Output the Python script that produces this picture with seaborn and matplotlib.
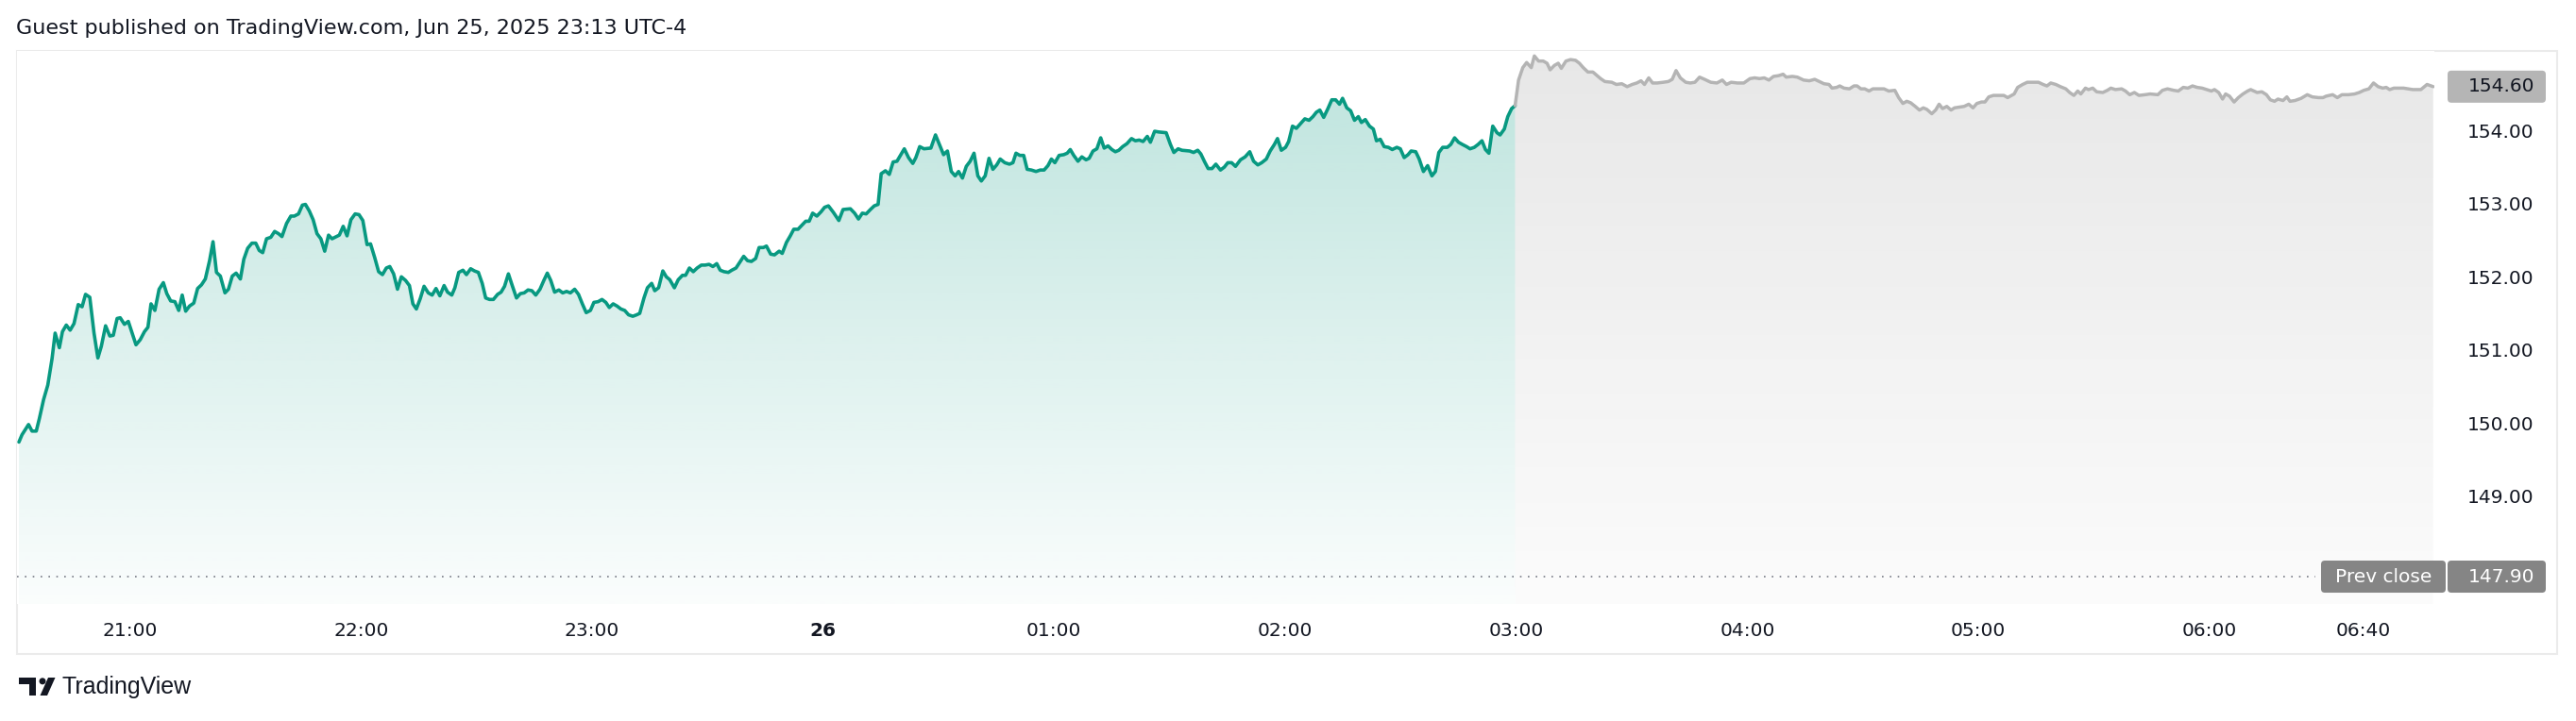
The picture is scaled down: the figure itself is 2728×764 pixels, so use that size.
import numpy as np
import matplotlib
matplotlib.use("Agg")
import matplotlib.pyplot as plt
import seaborn as sns
from matplotlib.patches import Polygon, Rectangle, FancyBboxPatch, Circle
from matplotlib.transforms import IdentityTransform
from matplotlib.colors import to_rgb

# ---------------- data (minutes after 20:00, Jun 25 2025 UTC-4) ----------------
session_minutes = [
    31.2, 32.0, 33.7, 34.6, 35.7, 36.5, 37.6, 38.7, 39.8, 40.6,
    41.7, 42.5, 43.5, 44.5, 45.5, 46.6, 47.6, 48.5, 49.6, 50.7,
    51.7, 52.6, 53.7, 54.8, 55.7, 56.7, 57.5, 58.6, 59.6, 60.6,
    61.6, 62.7, 63.8, 64.7, 65.5, 66.5, 67.6, 68.7, 69.6, 70.6,
    71.7, 72.7, 73.6, 74.5, 75.5, 76.6, 77.6, 78.6, 79.6, 80.7,
    81.6, 82.5, 83.5, 84.7, 85.6, 86.6, 87.6, 88.7, 89.6, 90.6,
    91.7, 92.7, 93.6, 94.5, 95.5, 96.6, 97.6, 98.6, 99.5, 100.7,
    101.8, 102.7, 103.8, 104.8, 105.6, 106.6, 107.6, 108.6, 109.6, 110.6,
    111.6, 112.5, 114.4, 115.4, 116.4, 117.4, 118.5, 119.5, 120.5, 121.6,
    122.5, 123.6, 124.6, 125.6, 126.6, 127.5, 128.5, 129.5, 130.5, 131.6,
    132.6, 133.5, 134.4,
    135.4, 136.4, 137.5, 138.5, 139.5, 140.5, 141.6, 142.5, 143.6, 144.4,
    145.4, 146.5, 147.4, 148.5, 149.5, 150.5, 151.5, 152.4, 153.4, 154.4,
    155.5, 156.4, 157.3, 158.3, 159.3, 160.4, 161.4, 162.4, 163.4, 164.4,
    165.4, 166.5, 167.5, 168.4, 169.3, 170.3, 171.4, 172.4, 173.4, 174.4,
    175.5, 176.5, 177.5, 178.5, 179.6, 180.5, 181.6, 182.6, 183.6, 184.5,
    185.5, 186.5, 187.5, 188.5, 189.5, 190.6, 191.6, 192.4, 193.5, 194.4,
    195.5, 196.3, 197.3, 198.4, 199.3, 200.2, 201.4, 202.4, 203.5, 204.3,
    205.3, 206.3, 207.3, 208.4, 209.4, 210.4, 211.4, 212.4, 213.3, 214.3,
    215.4, 216.3, 217.4, 218.4, 219.4, 220.4, 221.4, 222.5, 223.4, 224.5,
    225.3, 226.4, 227.4, 228.6, 229.4, 230.5, 231.5, 232.4, 233.5, 234.6,
    235.5, 236.4, 237.3, 238.4, 239.5, 240.4, 241.4,
    242.7, 244.1, 245.2, 247.1, 248.2, 249.2, 250.2, 251.2, 252.3, 253.3,
    254.3, 255.1, 256.2, 257.2, 258.2, 259.2, 260.2, 261.1, 262.2, 263.3,
    264.1, 265.1, 266.2, 268.0, 269.2, 270.2, 271.3, 272.3, 273.3, 274.3,
    275.2, 276.2, 277.2, 278.2, 279.2, 280.2, 281.1, 282.1, 283.1, 284.1,
    285.1, 286.0, 287.2, 288.4, 289.3, 290.1, 291.1, 292.1, 293.0, 294.1,
    295.3, 296.4, 297.4, 298.4, 299.3, 300.2, 301.3, 302.5, 303.4, 304.2,
    305.1, 306.2, 307.2, 308.3, 309.1, 310.1, 311.1, 312.1, 313.0, 314.0,
    315.0, 315.9, 316.8, 317.8, 318.9, 320.1, 321.1, 322.1, 323.1, 324.2,
    325.0, 326.1, 327.2, 329.1, 330.2, 331.1, 332.2, 333.2, 335.2, 336.2,
    337.3, 338.1, 339.1, 340.0, 341.0, 342.0, 343.2, 344.2,
    345.1, 346.1, 347.1, 348.4, 349.6, 350.8, 351.8, 352.9, 353.9, 355.1,
    356.1, 357.2, 358.0, 359.0, 360.1, 360.9, 361.9, 362.9, 363.9, 365.1,
    366.2, 367.2, 368.1, 369.0, 370.0, 371.1, 372.1, 373.1, 374.1, 374.9,
    376.0, 377.0, 378.0, 379.0, 379.8, 380.8, 381.9, 382.9, 383.7, 384.7,
    385.7, 386.8, 387.8, 389.0, 389.9, 390.9, 391.9, 392.7, 393.9, 394.8,
    395.9, 397.0, 398.1, 399.0, 399.9, 400.9, 402.1, 403.0, 404.0, 405.0,
    406.0, 407.1, 408.0, 409.1, 410.1, 411.1, 412.0, 412.9, 413.9, 415.0,
    415.8, 416.9, 417.8, 418.8, 419.7,
]
session_prices = [
    149.74, 149.84, 149.98, 149.89, 149.89, 150.06, 150.32, 150.52, 150.88, 151.23,
    151.03, 151.25, 151.34, 151.27, 151.36, 151.62, 151.59, 151.76, 151.72, 151.23,
    150.89, 151.05, 151.33, 151.19, 151.20, 151.43, 151.44, 151.35, 151.39, 151.23,
    151.07, 151.14, 151.25, 151.31, 151.63, 151.54, 151.83, 151.92, 151.77, 151.67,
    151.66, 151.54, 151.75, 151.53, 151.60, 151.64, 151.84, 151.89, 151.97, 152.22,
    152.48, 152.06, 152.01, 151.78, 151.83, 152.01, 152.05, 151.97, 152.24, 152.39,
    152.46, 152.46, 152.36, 152.33, 152.52, 152.54, 152.62, 152.59, 152.55, 152.73,
    152.83, 152.83, 152.86, 152.98, 152.99, 152.90, 152.78, 152.59, 152.52, 152.35,
    152.57, 152.52, 152.57, 152.69, 152.56, 152.78, 152.86, 152.85, 152.77, 152.44,
    152.45, 152.26, 152.07, 152.03, 152.12, 152.14, 152.04, 151.83, 152.00, 151.95,
    151.88, 151.63, 151.56,
    151.70, 151.87, 151.78, 151.75, 151.84, 151.74, 151.88, 151.79, 151.75, 151.85,
    152.06, 152.09, 152.03, 152.11, 152.08, 152.06, 151.91, 151.71, 151.69, 151.69,
    151.76, 151.79, 151.87, 152.04, 151.88, 151.71, 151.77, 151.78, 151.82, 151.81,
    151.75, 151.83, 151.95, 152.05, 151.95, 151.79, 151.82, 151.78, 151.80, 151.78,
    151.83, 151.76, 151.63, 151.51, 151.54, 151.65, 151.66, 151.69, 151.65, 151.58,
    151.63, 151.60, 151.56, 151.54, 151.48, 151.46, 151.48, 151.50, 151.71, 151.85,
    151.91, 151.81, 151.85, 152.08, 152.00, 151.96, 151.85, 151.96, 152.02, 152.02,
    152.12, 152.07, 152.12, 152.16, 152.16, 152.17, 152.14, 152.18, 152.09, 152.07,
    152.06, 152.09, 152.12, 152.20, 152.28, 152.22, 152.21, 152.25, 152.40, 152.40,
    152.42, 152.31, 152.30, 152.35, 152.32, 152.47, 152.56, 152.65, 152.65, 152.71,
    152.76, 152.76, 152.87, 152.83, 152.89, 152.95, 152.97,
    152.88, 152.77, 152.92, 152.93, 152.87, 152.79, 152.87, 152.86, 152.92, 152.97,
    152.99, 153.41, 153.45, 153.40, 153.57, 153.58, 153.67, 153.75, 153.63, 153.55,
    153.63, 153.78, 153.75, 153.76, 153.94, 153.81, 153.67, 153.72, 153.44, 153.38,
    153.44, 153.35, 153.51, 153.58, 153.69, 153.38, 153.31, 153.38, 153.62, 153.47,
    153.53, 153.61, 153.56, 153.54, 153.56, 153.69, 153.66, 153.66, 153.47, 153.46,
    153.44, 153.46, 153.46, 153.52, 153.61, 153.56, 153.66, 153.67, 153.69, 153.74,
    153.66, 153.58, 153.64, 153.60, 153.62, 153.72, 153.75, 153.90, 153.76, 153.79,
    153.74, 153.71, 153.73, 153.78, 153.82, 153.89, 153.86, 153.87, 153.85, 153.92,
    153.84, 153.99, 153.98, 153.97, 153.81, 153.70, 153.75, 153.73, 153.72, 153.70,
    153.73, 153.68, 153.57, 153.48, 153.48, 153.54, 153.46, 153.50,
    153.56, 153.56, 153.51, 153.60, 153.64, 153.71, 153.58, 153.53, 153.56, 153.61,
    153.72, 153.81, 153.89, 153.73, 153.77, 153.85, 154.06, 154.03, 154.09, 154.16,
    154.14, 154.19, 154.25, 154.28, 154.18, 154.30, 154.42, 154.42, 154.36, 154.44,
    154.31, 154.27, 154.14, 154.19, 154.11, 154.15, 154.06, 154.02, 153.86, 153.88,
    153.78, 153.77, 153.74, 153.77, 153.75, 153.63, 153.67, 153.72, 153.71, 153.61,
    153.44, 153.52, 153.38, 153.44, 153.70, 153.77, 153.77, 153.81, 153.90, 153.84,
    153.81, 153.78, 153.75, 153.77, 153.81, 153.86, 153.74, 153.69, 154.06, 153.97,
    153.94, 154.02, 154.19, 154.30, 154.34,
]
overnight_minutes = [
    419.7, 420.6, 421.7, 422.7, 423.9, 424.7, 425.8, 427.0, 428.0, 428.8,
    429.9, 430.9, 431.7, 432.9, 434.1, 435.4, 436.4, 437.4, 438.6, 439.9,
    440.8, 441.9, 443.0, 444.8, 446.0, 447.4, 448.8, 450.1, 451.3, 452.4,
    453.3, 454.4, 455.4, 456.6, 458.2, 459.5, 460.5, 461.5, 462.6, 464.0,
    465.2, 466.4, 467.6, 468.9, 470.5, 472.1, 473.5, 474.6, 475.8, 477.4,
    479.1, 480.7, 481.9, 483.2, 484.4, 485.6, 486.8, 488.1, 489.3, 490.1,
    491.7, 493.0, 494.6, 496.1, 497.5, 498.7, 499.9, 501.2, 502.0, 503.2,
    504.0, 505.1, 506.5, 507.7, 508.5, 509.5, 510.5, 511.6, 512.6, 513.8,
    515.5, 516.7, 518.3, 519.3, 520.4, 521.4, 522.4, 523.6, 524.7, 525.7,
    526.6, 527.9, 528.9, 529.8, 530.7, 531.8, 532.9, 533.8, 535.1, 536.3,
    537.5, 538.6, 539.6, 540.8,
    541.7, 542.7, 543.9, 546.6, 547.6, 549.3, 550.2, 551.5, 552.7, 555.6,
    556.8, 557.8, 558.8, 560.1, 561.3, 562.7, 563.7, 564.8, 565.8, 566.6,
    567.8, 568.6, 569.7, 570.7, 572.3, 573.5, 574.4, 575.6, 577.2, 578.2,
    579.3, 580.5, 581.7, 583.3, 584.6, 586.6, 587.8, 589.1, 590.7, 591.9,
    593.2, 594.4, 595.6, 596.8, 598.1, 599.3, 600.5, 601.3, 602.4, 603.4,
    604.2, 605.2, 606.4, 607.5, 608.7, 609.9, 610.7, 612.4, 613.6, 614.8,
    615.8, 616.9, 617.8, 619.1, 620.1, 620.9, 622.2, 623.8, 625.4, 626.7,
    628.3, 629.5, 630.3, 632.0, 633.2, 634.4, 636.1, 637.7, 638.9, 640.1,
    641.4, 642.6, 643.8, 645.0, 645.9, 646.8, 647.9, 649.1, 650.4, 651.6,
    652.8, 654.9, 656.5, 658.1,
]
overnight_prices = [
    154.34, 154.69, 154.86, 154.93, 154.86, 155.02, 154.95, 154.95, 154.92, 154.83,
    154.89, 154.92, 154.85, 154.95, 154.97, 154.96, 154.92, 154.86, 154.80, 154.80,
    154.76, 154.71, 154.67, 154.66, 154.63, 154.64, 154.60, 154.63, 154.65, 154.68,
    154.63, 154.72, 154.65, 154.65, 154.66, 154.67, 154.70, 154.82, 154.72, 154.66,
    154.65, 154.66, 154.73, 154.70, 154.66, 154.65, 154.69, 154.63, 154.66, 154.65,
    154.65, 154.71, 154.72, 154.71, 154.72, 154.69, 154.74, 154.75, 154.77, 154.73,
    154.74, 154.73, 154.69, 154.68, 154.70, 154.67, 154.64, 154.63, 154.58, 154.59,
    154.61, 154.58, 154.57, 154.61, 154.61, 154.57, 154.57, 154.54, 154.57, 154.57,
    154.57, 154.54, 154.55, 154.45, 154.37, 154.40, 154.38, 154.33, 154.28, 154.31,
    154.29, 154.23, 154.28, 154.36, 154.30, 154.33, 154.28, 154.31, 154.32, 154.33,
    154.36, 154.31, 154.37, 154.39,
    154.39, 154.46, 154.48, 154.48, 154.45, 154.50, 154.59, 154.63, 154.66, 154.66,
    154.63, 154.61, 154.65, 154.63, 154.60, 154.57, 154.52, 154.48, 154.54, 154.50,
    154.58, 154.56, 154.58, 154.53, 154.52, 154.55, 154.58, 154.56, 154.57, 154.54,
    154.49, 154.52, 154.48, 154.49, 154.50, 154.49, 154.55, 154.57, 154.55, 154.54,
    154.59, 154.58, 154.61, 154.59, 154.58, 154.56, 154.54, 154.56, 154.52, 154.43,
    154.50, 154.47, 154.39, 154.45, 154.50, 154.54, 154.56, 154.52, 154.53, 154.49,
    154.42, 154.40, 154.43, 154.41, 154.46, 154.40, 154.41, 154.44, 154.49, 154.46,
    154.45, 154.45, 154.47, 154.49, 154.45, 154.49, 154.49, 154.50, 154.52, 154.55,
    154.57, 154.65, 154.60, 154.58, 154.59, 154.56, 154.58, 154.58, 154.58, 154.57,
    154.56, 154.56, 154.63, 154.60,
]
prev_close = 147.90
time_tick_minutes = [60, 120, 180, 240, 300, 360, 420, 480, 540, 600, 640]
time_tick_labels = ["21:00", "22:00", "23:00", "26", "01:00", "02:00",
                    "03:00", "04:00", "05:00", "06:00", "06:40"]
price_ticks = [149.0, 150.0, 151.0, 152.0, 153.0, 154.0]
title_text = "Guest published on TradingView.com, Jun 25, 2025 23:13 UTC-4"

# ---------------- styling ----------------
W, H = 2728, 764
GREEN = "#089981"
GRAY_LINE = "#b4b4b4"
TEXT = "#131722"
FS = 14.5

sns.set_theme(style="white")
plt.rcParams['font.family'] = ['DejaVu Sans']

fig = plt.figure(figsize=(W / 100, H / 100), dpi=100)
fig.patch.set_facecolor("white")

# pane geometry in pixels (y measured from top)
PL, PR, PT, PB = 18, 2578, 54, 640
ax = fig.add_axes([PL / W, 1 - PB / H, (PR - PL) / W, (PB - PT) / H])
ax.set_facecolor("white")

XLIM = (30.7, 658.4)
YLIM = (147.526, 155.088)


def gradient_fill(ax, xs, ys, rgb, a_top, a_bot):
    verts = [(xs[0], YLIM[0])] + list(zip(xs, ys)) + [(xs[-1], YLIM[0])]
    poly = Polygon(verts, closed=True, facecolor="none", edgecolor="none")
    ax.add_patch(poly)
    n = 256
    grad = np.zeros((n, 1, 4))
    grad[:, 0, :3] = rgb
    grad[:, 0, 3] = np.linspace(a_bot, a_top, n)
    im = ax.imshow(grad, extent=[xs[0], xs[-1], YLIM[0], YLIM[1]], origin="lower",
                   aspect="auto", interpolation="bilinear", zorder=1)
    im.set_clip_path(poly)


gradient_fill(ax, session_minutes, session_prices, to_rgb(GREEN), 0.27, 0.02)
gradient_fill(ax, overnight_minutes, overnight_prices, (0.56, 0.56, 0.56), 0.21, 0.03)

sns.lineplot(x=session_minutes, y=session_prices, ax=ax, color=GREEN, linewidth=2.6,
             estimator=None, sort=False, zorder=3)
sns.lineplot(x=overnight_minutes, y=overnight_prices, ax=ax, color=GRAY_LINE, linewidth=2.5,
             estimator=None, sort=False, zorder=3)

ax.set_xlim(*XLIM)
ax.set_ylim(*YLIM)
for s in ax.spines.values():
    s.set_visible(False)
ax.grid(False)
ax.set_xlabel("")
ax.set_ylabel("")

ax.set_xticks(time_tick_minutes)
ax.set_xticklabels(time_tick_labels)
ax.tick_params(axis="x", length=0, pad=13.5, labelsize=FS, labelcolor=TEXT)
ax.get_xticklabels()[3].set_fontweight("bold")

ax.yaxis.tick_right()
ax.set_yticks(price_ticks)
ax.set_yticklabels([f"{v:.2f}" for v in price_ticks])
ax.tick_params(axis="y", length=0, pad=25, labelsize=FS, labelcolor=TEXT)

fig.canvas.draw()


def data_to_px(x, y):
    dx, dy = ax.transData.transform((x, y))
    return dx, H - dy


def px_to_data(px, py):
    return ax.transData.inverted().transform((px, H - py))


# prev close dotted line
_, y_pc = data_to_px(XLIM[0], prev_close)
x_end = px_to_data(2452, y_pc)[0]
ax.plot([XLIM[0], x_end], [prev_close, prev_close], color="#787b86",
        linestyle=(0, (1, 4)), linewidth=1.2, zorder=2)


def box(x0, y0, x1, y1, color):
    p = FancyBboxPatch((x0, H - y1), x1 - x0, y1 - y0,
                       boxstyle="round,pad=0,rounding_size=4",
                       facecolor=color, edgecolor="none", transform=IdentityTransform(),
                       zorder=5)
    fig.add_artist(p)


# prev close labels
box(2458, y_pc - 17, 2590, y_pc + 17, "#858585")
box(2592, y_pc - 17, 2696, y_pc + 17, "#858585")
fig.text(2524 / W, 1 - y_pc / H, "Prev close", color="white", fontsize=FS,
         ha="center", va="center", zorder=6)
fig.text(2684 / W, 1 - y_pc / H, f"{prev_close:.2f}", color="white", fontsize=FS,
         ha="right", va="center", zorder=6)

# last price label
last_price = overnight_prices[-1]
_, y_lp = data_to_px(XLIM[1], last_price)
box(2592, y_lp - 17, 2696, y_lp + 17, "#b5b5b5")
fig.text(2684 / W, 1 - y_lp / H, f"{last_price:.2f}", color=TEXT, fontsize=FS,
         ha="right", va="center", zorder=6)

# outer frame
fig.add_artist(Rectangle((18, H - 693), 2690, 639, fill=False, edgecolor="#ebebeb",
                         linewidth=1.5, transform=IdentityTransform(), zorder=0))

# title
fig.text(17 / W, 1 - 30 / H, title_text, color=TEXT, fontsize=16,
         ha="left", va="center")

# TradingView logo
logo_col = TEXT
fig.add_artist(Rectangle((20, H - 725), 18, 7, facecolor=logo_col, edgecolor="none",
                         transform=IdentityTransform()))
fig.add_artist(Rectangle((31, H - 737), 7, 19, facecolor=logo_col, edgecolor="none",
                         transform=IdentityTransform()))
fig.add_artist(Circle((45, H - 721.8), 3.5, facecolor=logo_col, edgecolor="none",
                      transform=IdentityTransform()))
fig.add_artist(Polygon([(51, H - 718), (58.5, H - 718), (50, H - 737), (42.5, H - 737)],
                       closed=True, facecolor=logo_col, edgecolor="none",
                       transform=IdentityTransform()))
fig.text(66 / W, 1 - 728 / H, "TradingView", color=logo_col, fontsize=18,
         family=["Liberation Sans", "DejaVu Sans"], ha="left", va="center")

fig.savefig("out.png", dpi=100, facecolor="white")
